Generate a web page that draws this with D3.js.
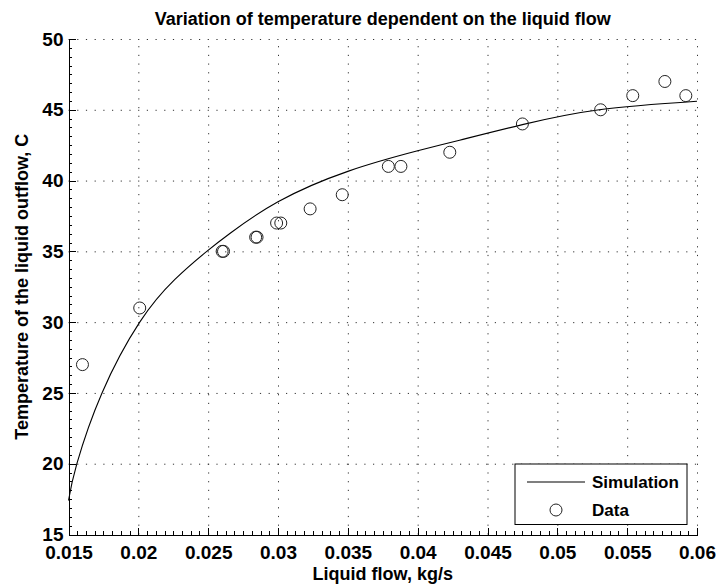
<!DOCTYPE html>
<html lang="en">
<head>
  <meta charset="UTF-8">
  <title>Variation of temperature dependent on the liquid flow</title>
  <style>
    body { margin: 0; background: #fff; }
    svg text { font-family: "Liberation Sans", Arial, sans-serif; font-weight: bold; fill: #000; }
    .grid line { stroke: #333; stroke-width: 1; stroke-dasharray: 1.2 7.5; }
    .grid path { display: none; }
    .axis path, .axis line { stroke: #000; stroke-width: 1; shape-rendering: crispEdges; }
    .minor path { display: none; }
    .minor line { stroke: #000; stroke-width: 1; shape-rendering: crispEdges; }
  </style>
</head>
<body>
  <svg id="chart" width="719" height="588"></svg>

  <script src="https://d3js.org/d3.v7.min.js"></script>
  <script>
    // Measured data (liquid flow in kg/s, outflow temperature in C)
    const dataFlow = [0.0160, 0.0201, 0.0260, 0.0261, 0.0284, 0.0285, 0.0299, 0.0302, 0.0323, 0.0346,
                      0.0379, 0.0388, 0.0423, 0.0475, 0.0531, 0.0554, 0.0577, 0.0592];
    const dataTemp = [27, 31, 35, 35, 36, 36, 37, 37, 38, 39, 41, 41, 42, 44, 45, 46, 47, 46];

    // Simulation curve
    const simFlow = [0.015, 0.0156, 0.0174, 0.0201, 0.0226, 0.0249, 0.0266,
                     0.030, 0.035, 0.040, 0.043, 0.0475, 0.053, 0.060];
    const simTemp = [17.4, 20.0, 25.0, 30.0, 33.0, 35.0, 36.3,
                     38.5, 40.65, 42.1, 42.85, 43.95, 45.0, 45.6];

    const xTicks = [0.015, 0.02, 0.025, 0.03, 0.035, 0.04, 0.045, 0.05, 0.055, 0.06];
    const xTickLabels = ["0.015", "0.02", "0.025", "0.03", "0.035", "0.04", "0.045", "0.05", "0.055", "0.06"];
    const yTicks = [15, 20, 25, 30, 35, 40, 45, 50];

    const margin = { left: 68.5, top: 39, right: 22, bottom: 53.5 };
    const W = 719, H = 588;
    const width = W - margin.left - margin.right;
    const height = H - margin.top - margin.bottom;

    const svg = d3.select("#chart");
    const g = svg.append("g").attr("transform", `translate(${margin.left},${margin.top})`);

    const x = d3.scaleLinear().domain([0.015, 0.06]).range([0, width]);
    const y = d3.scaleLinear().domain([15, 50]).range([height, 0]);

    // dotted grid
    g.append("g").attr("class", "grid")
      .attr("transform", `translate(0,${height})`)
      .call(d3.axisBottom(x).tickValues(xTicks.slice(1)).tickSize(-height).tickFormat(""));
    g.append("g").attr("class", "grid")
      .call(d3.axisLeft(y).tickValues(yTicks.slice(1)).tickSize(-width).tickFormat(""));

    // minor ticks (inward)
    const xMinor = d3.range(0, 73).map(i => 0.015 + i * 0.000625);
    const yMinor = d3.range(0, 57).map(i => 15 + i * 0.625);
    g.append("g").attr("class", "minor")
      .attr("transform", `translate(0,${height})`)
      .call(d3.axisBottom(x).tickValues(xMinor).tickSize(-3.5).tickFormat(""));
    g.append("g").attr("class", "minor")
      .call(d3.axisLeft(y).tickValues(yMinor).tickSize(-3.5).tickFormat(""));

    // main axes, ticks pointing inward like matlab
    const xAxis = g.append("g").attr("class", "axis")
      .attr("transform", `translate(0,${height})`)
      .call(d3.axisBottom(x).tickValues(xTicks).tickSizeInner(-7).tickSizeOuter(0).tickPadding(11.5)
        .tickFormat((d, i) => xTickLabels[i]));
    xAxis.selectAll("text").style("font-size", "19px");

    const yAxis = g.append("g").attr("class", "axis")
      .call(d3.axisLeft(y).tickValues(yTicks).tickSizeInner(-7).tickSizeOuter(0).tickPadding(5));
    yAxis.selectAll("text").style("font-size", "19px");

    // simulation line
    const line = d3.line()
      .x((d, i) => x(simFlow[i]))
      .y(d => y(d))
      .curve(d3.curveNatural);
    g.append("path")
      .datum(simTemp)
      .attr("d", line)
      .attr("fill", "none")
      .attr("stroke", "#000")
      .attr("stroke-width", 1.1);

    // data points
    g.append("g").selectAll("circle")
      .data(dataTemp)
      .enter().append("circle")
      .attr("cx", (d, i) => x(dataFlow[i]))
      .attr("cy", d => y(d))
      .attr("r", 6)
      .attr("fill", "none")
      .attr("stroke", "#222")
      .attr("stroke-width", 1);

    // title and axis labels
    svg.append("text")
      .attr("x", margin.left + width / 2)
      .attr("y", 25)
      .attr("text-anchor", "middle")
      .style("font-size", "18px")
      .text("Variation of temperature dependent on the liquid flow");

    svg.append("text")
      .attr("x", margin.left + width / 2)
      .attr("y", 580)
      .attr("text-anchor", "middle")
      .style("font-size", "18px")
      .text("Liquid flow, kg/s");

    svg.append("text")
      .attr("transform", `translate(28,${margin.top + height / 2}) rotate(-90)`)
      .attr("text-anchor", "middle")
      .style("font-size", "18px")
      .text("Temperature of the liquid outflow, C");

    // legend
    const lg = svg.append("g").attr("transform", "translate(515,464)");
    lg.append("rect")
      .attr("width", 172).attr("height", 60.5)
      .attr("fill", "#fff").attr("stroke", "#000").attr("stroke-width", 1);
    lg.append("line")
      .attr("x1", 12).attr("x2", 70).attr("y1", 18).attr("y2", 18)
      .attr("stroke", "#000").attr("stroke-width", 1.1);
    lg.append("text").attr("x", 77).attr("y", 18).attr("dy", "0.35em")
      .style("font-size", "17px").text("Simulation");
    lg.append("circle")
      .attr("cx", 41).attr("cy", 46).attr("r", 6)
      .attr("fill", "none").attr("stroke", "#222");
    lg.append("text").attr("x", 77).attr("y", 46).attr("dy", "0.35em")
      .style("font-size", "17px").text("Data");
  </script>
</body>
</html>
